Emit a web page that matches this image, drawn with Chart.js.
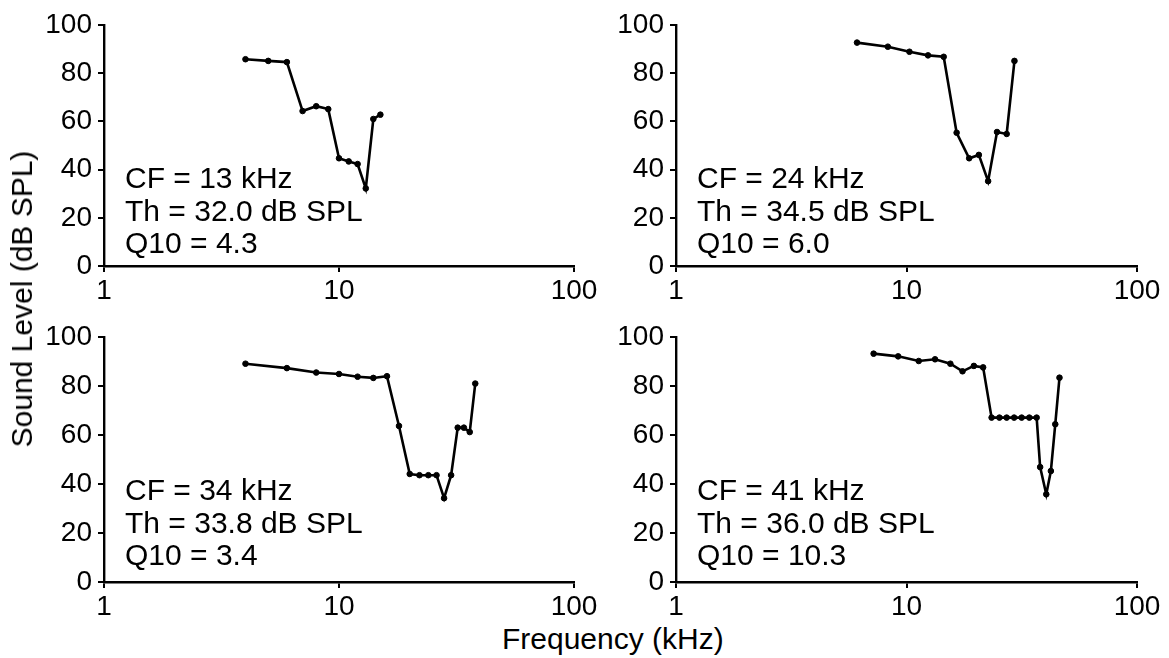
<!DOCTYPE html>
<html>
<head>
<meta charset="utf-8">
<script src="https://cdn.jsdelivr.net/npm/chart.js@4"></script>
<style>
  body { margin: 0; background: #fff; }
  #wrap { position: relative; width: 1169px; height: 658px; overflow: hidden; font-family: "Liberation Sans", Arial, sans-serif; }
  canvas { position: absolute; }
  .title { position: absolute; font-size: 30px; line-height: 30px; white-space: nowrap; color: #000; }
</style>
</head>
<body>
<div id="wrap">
  <canvas id="c1" width="600" height="300" style="left:0;top:0"></canvas>
  <canvas id="c2" width="569" height="300" style="left:600px;top:0"></canvas>
  <canvas id="c3" width="600" height="320" style="left:0;top:300px"></canvas>
  <canvas id="c4" width="569" height="320" style="left:600px;top:300px"></canvas>
  <div class="title" style="left:502px;top:624px">Frequency (kHz)</div>
  <div class="title" style="left:22px;top:299px;transform:translate(-50%,-50%) rotate(-90deg)">Sound Level (dB SPL)</div>
</div>
<script>
// axis ticks
const xTicks = [1, 10, 100];
const yTicks = [0, 20, 40, 60, 80, 100];

// unit 1 (top left)
const freq1 = [4, 5, 6, 7, 8, 9, 10, 11, 12, 13, 14, 15];
const level1 = [85.8, 85.1, 84.6, 64.3, 66.3, 65.1, 44.7, 43.4, 42.3, 32.2, 61.0, 62.8];
const text1 = ['CF = 13 kHz', 'Th = 32.0 dB SPL', 'Q10 = 4.3'];

// unit 2 (top right)
const freq2 = [6.1, 8.3, 10.3, 12.4, 14.5, 16.5, 18.7, 20.6, 22.6, 24.7, 27.2, 29.4];
const level2 = [92.7, 91.0, 88.9, 87.4, 86.8, 55.3, 44.7, 46.1, 35.2, 55.6, 54.8, 85.1];
const text2 = ['CF = 24 kHz', 'Th = 34.5 dB SPL', 'Q10 = 6.0'];

// unit 3 (bottom left)
const freq3 = [4, 6, 8, 10, 12, 14, 16, 18, 20, 22, 24, 26, 28, 30, 32, 34, 36, 38];
const level3 = [89.1, 87.3, 85.5, 84.9, 83.8, 83.3, 84.0, 63.7, 44.1, 43.6, 43.6, 43.6, 34.2, 43.6, 63.0, 63.0, 61.2, 81.0];
const text3 = ['CF = 34 kHz', 'Th = 33.8 dB SPL', 'Q10 = 3.4'];

// unit 4 (bottom right)
const freq4 = [7.2, 9.2, 11.3, 13.3, 15.5, 17.5, 19.6, 21.5, 23.4, 25.3, 27.2, 29.3, 31.6, 34.1, 36.7, 38.0, 40.4, 42.3, 44.2, 46.1];
const level4 = [93.2, 92.1, 90.2, 90.9, 89.1, 86.0, 88.2, 87.6, 67.1, 67.1, 67.1, 67.1, 67.1, 67.1, 67.1, 46.9, 35.8, 45.3, 64.4, 83.4];
const text4 = ['CF = 41 kHz', 'Th = 36.0 dB SPL', 'Q10 = 10.3'];

const FONT = '"Liberation Sans", Arial, sans-serif';

// draws the CF / Th / Q10 lines inside the plot
const infoText = {
  id: 'infoText',
  afterDraw(chart, args, opts) {
    const ctx = chart.ctx;
    ctx.save();
    ctx.font = '30px ' + FONT;
    ctx.fillStyle = '#000';
    ctx.textAlign = 'left';
    ctx.textBaseline = 'alphabetic';
    opts.lines.forEach((t, i) => {
      ctx.fillText(t, chart.chartArea.left + 21, opts.base[i]);
    });
    ctx.restore();
  }
};

function makeChart(id, freq, level, lines, base, yW, xH, pad) {
  const pts = freq.map((f, i) => ({ x: f, y: level[i] }));
  return new Chart(document.getElementById(id), {
    type: 'line',
    data: {
      datasets: [{
        data: pts,
        borderColor: '#000',
        backgroundColor: '#000',
        borderWidth: 2.6,
        pointRadius: 2.8,
        pointBorderWidth: 1,
        tension: 0
      }]
    },
    options: {
      responsive: false,
      animation: false,
      devicePixelRatio: 1,
      layout: { padding: pad },
      plugins: {
        legend: { display: false },
        tooltip: { enabled: false },
        infoText: { lines: lines, base: base }
      },
      scales: {
        x: {
          type: 'logarithmic',
          min: 1,
          max: 100,
          afterBuildTicks: s => { s.ticks = xTicks.map(v => ({ value: v })); },
          afterFit: s => { s.height = xH; },
          grid: { drawOnChartArea: false, color: '#000', lineWidth: 2, tickLength: 6 },
          border: { color: '#000', width: 2.4 },
          ticks: {
            color: '#000',
            font: { family: FONT, size: 28 },
            padding: 2,
            autoSkip: false,
            maxRotation: 0,
            callback: v => String(v)
          }
        },
        y: {
          min: 0,
          max: 100,
          afterBuildTicks: s => { s.ticks = yTicks.map(v => ({ value: v })); },
          afterFit: s => { s.width = yW; },
          grid: { drawOnChartArea: false, color: '#000', lineWidth: 2, tickLength: 6 },
          border: { color: '#000', width: 2.4 },
          ticks: {
            color: '#000',
            font: { family: FONT, size: 28 },
            padding: 6
          }
        }
      }
    },
    plugins: [infoText]
  });
}

makeChart('c1', freq1, level1, text1, [188, 221, 253], 104, 34, { top: 25, right: 26, bottom: 0, left: 0 });
makeChart('c2', freq2, level2, text2, [188, 221, 253], 76, 34, { top: 25, right: 32, bottom: 0, left: 0 });
makeChart('c3', freq3, level3, text3, [200, 233, 265], 104, 38, { top: 37, right: 26, bottom: 0, left: 0 });
makeChart('c4', freq4, level4, text4, [200, 233, 265], 76, 38, { top: 37, right: 32, bottom: 0, left: 0 });
</script>
</body>
</html>
